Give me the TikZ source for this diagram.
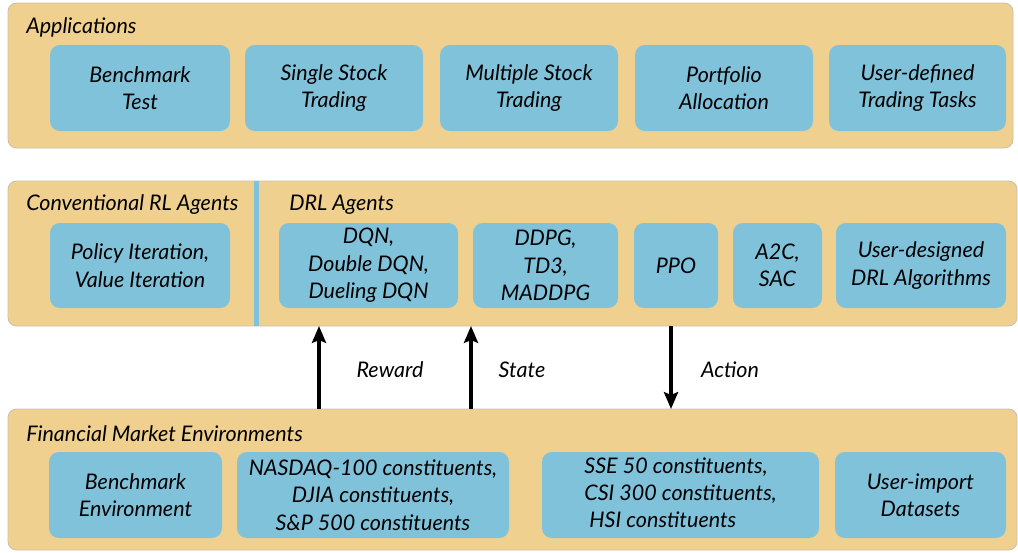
\documentclass[tikz,border=0pt]{standalone}
\usepackage{fontspec}
\setmainfont{Lato}
\usetikzlibrary{arrows.meta}
\definecolor{panelfill}{HTML}{F0D08F}
\definecolor{paneledge}{HTML}{C9C1AE}
\definecolor{boxfill}{HTML}{81C2DB}
\newcommand\unitpx{0.025cm}
\begin{document}
\begin{tikzpicture} [x=0.025cm,y=-0.025cm,font=\fontsize{15.3}{19.5}\selectfont\itshape]
\tikzstyle{panel}=[draw=paneledge,fill=panelfill,line width=0.6pt,rounded corners=6pt,
  anchor=north west,inner sep=0pt,outer sep=0pt,minimum height=145*\unitpx]
\tikzstyle{box}=[fill=boxfill,rounded corners=7pt,align=center,inner sep=0pt,minimum height=86*\unitpx]
\tikzstyle{title}=[anchor=west,inner sep=0pt]
\tikzstyle{flow}=[line width=2.4pt,-{Stealth[length=12pt,width=10pt,inset=2pt]}]
\useasboundingbox (0,0) rectangle (1018,552);
% the three layers
\node[panel,minimum width=1005*\unitpx] (apps) at (8,3) {};
\node[panel,minimum width=1009*\unitpx] (agents) at (8,181) {};
\node[panel,minimum width=1009*\unitpx,minimum height=141*\unitpx] (market) at (8,409) {};
\fill[boxfill] (254,181) rectangle (259,326);
\node[title] (appstitle) at (26,27) {Applications};
\node[title] (rltitle) at (26,205) {Conventional RL Agents};
\node[title] (drltitle) at (289,205) {DRL Agents};
\node[title] (markettitle) at (26,434) {Financial Market Environments};
% applications
\node[box,minimum width=180*\unitpx] (bench) at (140,88) {Benchmark\\Test};
\node[box,minimum width=178*\unitpx] (single) at (334,88) {Single Stock\\Trading};
\node[box,minimum width=178*\unitpx] (multi) at (529,88) {Multiple Stock\\Trading};
\node[box,minimum width=178*\unitpx] (portf) at (724,88) {Portfolio\\Allocation};
\node[box,minimum width=177*\unitpx] (usertask) at (917.5,88) {User-defined\\Trading Tasks};
% agents
\node[box,minimum width=180*\unitpx,minimum height=85*\unitpx] (policy) at (140,265.5) {Policy Iteration,\\Value Iteration};
\node[box,minimum width=179*\unitpx,minimum height=85*\unitpx] (dqn) at (368.5,265.5) {DQN,\\Double DQN,\\Dueling DQN};
\node[box,minimum width=145*\unitpx,minimum height=85*\unitpx] (ddpg) at (545.5,265.5) {DDPG,\\TD3,\\MADDPG};
\node[box,minimum width=84*\unitpx,minimum height=85*\unitpx] (ppo) at (676,265.5) {PPO};
\node[box,minimum width=89*\unitpx,minimum height=85*\unitpx] (atwoc) at (777.5,265.5) {A2C,\\SAC};
\node[box,minimum width=170*\unitpx,minimum height=85*\unitpx] (userdrl) at (921,265.5) {User-designed\\DRL Algorithms};
% environments
\node[box,minimum width=173*\unitpx] (benchenv) at (135.5,495) {Benchmark\\Environment};
\node[box,minimum width=272*\unitpx] (nasdaq) at (373,495) {NASDAQ-100 constituents,\\DJIA constituents,\\S\&P 500 constituents};
\node[box,minimum width=277*\unitpx] (sse) at (680.5,495) {\begin{tabular}{@{}l@{}}SSE 50 constituents,\\CSI 300 constituents,\\\ HSI constituents\end{tabular}};
\node[box,minimum width=171*\unitpx] (userdata) at (920.5,495) {User-import\\Datasets};
% interaction
\coordinate (rw) at (319,0);
\coordinate (st) at (471,0);
\coordinate (ac) at (671,0);
\draw[flow] (rw |- market.north) -- (rw |- agents.south);
\draw[flow] (st |- market.north) -- (st |- agents.south);
\draw[flow] (ac |- agents.south) -- (ac |- market.north);
\node (reward) at (390,370) {Reward};
\node (state) at (522,370) {State};
\node (action) at (730,370) {Action};
\end{tikzpicture}
\end{document}
